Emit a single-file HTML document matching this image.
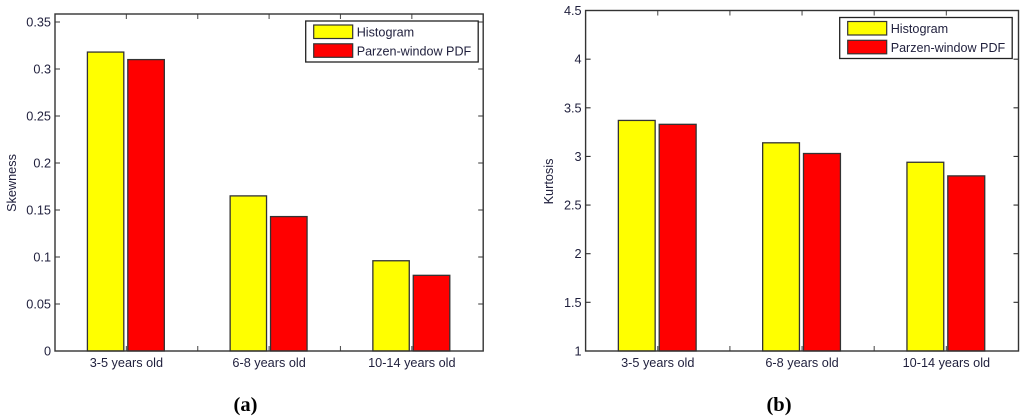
<!DOCTYPE html>
<html lang="en">
<head>
<meta charset="utf-8">
<title>Skewness and Kurtosis Bar Charts</title>
<style>
html,body{margin:0;padding:0;background:#fff;width:1024px;height:418px;overflow:hidden}
svg{display:block}
text{font-family:"Liberation Sans",Arial,sans-serif;font-size:12.7px;fill:#1f1f3c}
text.cap{font-family:"Liberation Serif","Times New Roman",serif;font-size:20.5px;font-weight:bold;fill:#000}
</style>
</head>
<body>
<svg id="figure" width="1024" height="418" viewBox="0 0 1024 418" xmlns="http://www.w3.org/2000/svg"></svg>
<script>
const categories = ['3-5 years old', '6-8 years old', '10-14 years old'];
const seriesNames = ['Histogram', 'Parzen-window PDF'];
const skewnessHistogram = [0.318, 0.165, 0.096];
const skewnessParzen = [0.31, 0.143, 0.0805];
const kurtosisHistogram = [3.37, 3.14, 2.94];
const kurtosisParzen = [3.33, 3.03, 2.8];
const skewnessTicks = ['0', '0.05', '0.1', '0.15', '0.2', '0.25', '0.3', '0.35'];
const kurtosisTicks = ['1', '1.5', '2', '2.5', '3', '3.5', '4', '4.5'];

const NS = 'http://www.w3.org/2000/svg';
const svg = document.getElementById('figure');
const INK = '#333333';

function make(tag, attrs, parent, text) {
  const el = document.createElementNS(NS, tag);
  for (const k in attrs) el.setAttribute(k, attrs[k]);
  if (text !== undefined) el.textContent = text;
  parent.appendChild(el);
  return el;
}

function drawChart(cfg) {
  const g = make('g', {}, svg);
  
  
  const xScale = v => cfg.left + (v - 0.5) / 3 * (cfg.right - cfg.left);
  const yScale = v => cfg.bottom - (v - cfg.yMin) / (cfg.yMax - cfg.yMin) * (cfg.bottom - cfg.top);
  const unit = (cfg.right - cfg.left) / 3;

  // x ticks at categories and midpoints (drawn under bars)
  for (let v = 1; v <= 3; v += 0.5) {
    const x = xScale(v);
    make('path', {
      d: `M${x} ${cfg.bottom}v-5M${x} ${cfg.top}v5`,
      stroke: '#555', 'stroke-width': 1.1, fill: 'none'
    }, g);
  }

  // bars
  [cfg.histogram, cfg.parzen].forEach((values, s) => {
    values.forEach((v, i) => {
      const centre = xScale(i + 1);
      const x0 = s === 0 ? centre - 0.273 * unit : centre + 0.01 * unit;
      const w = (s === 0 ? 0.255 : 0.256) * unit;
      const y = yScale(v);
      const bar = make('rect', {
        x: x0, y: y, width: w, height: cfg.bottom - y,
        fill: s === 0 ? '#ffff00' : '#ff0000', stroke: INK, 'stroke-width': 1.3
      }, g);
      
      
    });
  });

  // frame
  const frame = make('rect', {
    x: cfg.left, y: cfg.top, width: cfg.right - cfg.left, height: cfg.bottom - cfg.top,
    fill: 'none', stroke: INK, 'stroke-width': 1.4
  }, g);
  
  

  // y ticks
  cfg.ticks.forEach(label => {
    const y = yScale(parseFloat(label));
    make('path', {
      d: `M${cfg.left} ${y}h5M${cfg.right} ${y}h-5`,
      stroke: INK, 'stroke-width': 1.1, fill: 'none'
    }, g);
    const t = make('text', { x: cfg.left - 4, y: y + 4.5, 'text-anchor': 'end' }, g, label);
    
    
  });

  categories.forEach((c, i) => {
    const t = make('text', { x: xScale(i + 1), y: 367, 'text-anchor': 'middle' }, g, c);
    
    
  });

  // y title
  const title = make('text', {
    x: cfg.titleX, y: cfg.titleY, 'text-anchor': 'middle',
    transform: `rotate(-90 ${cfg.titleX} ${cfg.titleY})`
  }, g, cfg.title);
  
  

  // legend
  const legend = make('g', {}, g);
  
  
  make('rect', {
    x: cfg.legendX, y: cfg.legendY, width: 172.5, height: 41,
    fill: '#fff', stroke: '#222', 'stroke-width': 1.3
  }, legend);
  seriesNames.forEach((n, i) => {
    const rowY = cfg.legendY + 4 + i * 18.8;
    const swatch = make('rect', {
      x: cfg.legendX + 8, y: rowY, width: 39, height: 13.5,
      fill: i === 0 ? '#ffff00' : '#ff0000', stroke: INK, 'stroke-width': 1.2
    }, legend);
    
    
    const t = make('text', { x: cfg.legendX + 51, y: rowY + 11.5, 'textLength': cfg.legendLengths[i], 'lengthAdjust': 'spacingAndGlyphs' }, legend, n);
    
    
  });

  // caption
  const cap = make('text', { class: 'cap', x: cfg.captionX, y: 411, 'text-anchor': 'middle' }, g, cfg.caption);
  
  
}

drawChart({
  name: 'skewness-chart', left: 55, right: 483.2, top: 14, bottom: 351,
  yMin: 0, yMax: 0.3585, histogram: skewnessHistogram, parzen: skewnessParzen,
  ticks: skewnessTicks, title: 'Skewness', titleX: 16, titleY: 183,
  legendX: 305.7, legendY: 21, captionX: 245.5, caption: '(a)', legendLengths: [57.5, 114.5]
});
drawChart({
  name: 'kurtosis-chart', left: 585.6, right: 1018.5, top: 10.5, bottom: 351,
  yMin: 1, yMax: 4.5, histogram: kurtosisHistogram, parzen: kurtosisParzen,
  ticks: kurtosisTicks, title: 'Kurtosis', titleX: 553, titleY: 181.5,
  legendX: 839.7, legendY: 17.5, captionX: 779, caption: '(b)', legendLengths: [57.5, 114.5]
});
</script>
</body>
</html>
